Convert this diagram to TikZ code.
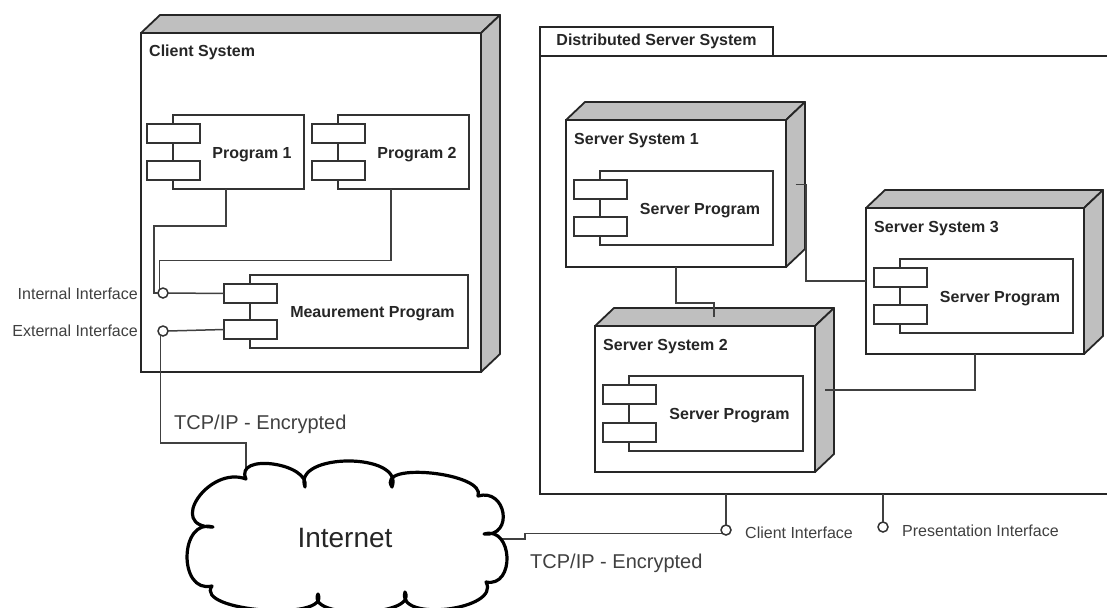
\documentclass[tikz,border=0pt]{standalone}
\usepackage{fontspec}
\setmainfont{Liberation Sans}
\usetikzlibrary{calc}

\tikzset{
  nodebox/.style={draw=black!85, line width=1.8pt, fill=white, inner sep=0pt, outer sep=0pt},
  face/.style={draw=black!85, line width=1.8pt, fill=black!25, line join=round},
  compbox/.style={draw=black!80, line width=1.6pt, fill=white, inner sep=0pt, outer sep=0pt},
  portbox/.style={compbox, minimum width=53, minimum height=19},
  boldlabel/.style={font=\fontsize{16}{18}\selectfont\bfseries, text=black!85, inner sep=0pt},
  plainlabel/.style={font=\fontsize{16}{18}\selectfont, text=black!75, inner sep=0pt},
  biglabel/.style={font=\fontsize{20}{24}\selectfont, text=black!75, inner sep=0pt},
  iface/.style={circle, draw=black!80, line width=1.5pt, fill=white, minimum size=10, inner sep=0pt, outer sep=0pt},
  wire/.style={draw=black!75, line width=1.5pt},
  cloudline/.style={draw=black, line width=3.2pt, fill=white, line join=round},
}

% 3D deployment node: name, left, top, right, bottom, title
\newcommand\deploynode[6]{%
  \node[nodebox, minimum width={#4-#2}, minimum height={#5-#3}, anchor=north west] (#1) at (#2,#3) {};
  \draw[face] (#1.north west) -- ++(19,-18) -- ([shift={(19,-18)}]#1.north east) -- (#1.north east) -- cycle;
  \draw[face] (#1.north east) -- ++(19,-18) -- ([shift={(19,-18)}]#1.south east) -- (#1.south east) -- cycle;
  \node[boldlabel, anchor=base west] (#1-t) at (#2+8,#3+24) {#6};
}

% UML component: name, left, top, right, bottom, title
\newcommand\compo[6]{%
  \node[compbox, minimum width={#4-#2}, minimum height={#5-#3}, anchor=north west] (#1) at (#2,#3) {};
  \node[portbox, anchor=north west] (#1-a) at (#2-26,#3+9) {};
  \node[portbox, anchor=south west] (#1-b) at (#2-26,#5-9) {};
  \node[boldlabel, anchor=base] (#1-t) at ({(#2+27+#4)/2},{(#3+#5)/2+6}) {#6};
}

\begin{document}
\begin{tikzpicture}[x=1pt,y=-1pt]
\clip (0,0) rectangle (1107,607);
\fill[white] (0,0) rectangle (1107,607);

% ---------- client side ----------
\deploynode{client}{141}{33}{481}{372}{Client System}
\compo{p1}{173}{115}{304}{189}{Program 1}
\compo{p2}{338}{115}{469}{189}{Program 2}
\compo{meas}{250}{275}{468}{348}{Meaurement Program}

\node[iface] (int) at (163,293) {};
\node[iface] (ext) at (163,331) {};
\node[plainlabel, anchor=base east] (intlbl) at (138,299) {Internal Interface};
\node[plainlabel, anchor=base east] (extlbl) at (138,336) {External Interface};

\draw[wire] ([xshift=53pt]p1.south west) |- (154,226) |- (int.west);
\draw[wire] ([xshift=53pt]p2.south west) |- ($(int.north west)+(0,-29)$) -- (int.north west);
\draw[wire] (int.east) -- (meas-a.west);
\draw[wire] (ext.east) -- (meas-b.west);

% ---------- server side ----------
\node[nodebox, line width=1.6pt, minimum width=233, minimum height=29,
      font=\fontsize{16}{18}\selectfont\bfseries, text=black!85] (dsstab) at (656.5,41.5) {Distributed Server System};
\node[nodebox, fill=none, line width=1.6pt, minimum width=600, minimum height=438, anchor=north west] (dss) at (540,56) {};

\deploynode{ss1}{566}{120}{786}{267}{Server System 1}
\compo{sp1}{600}{171}{773}{245}{Server Program}
\deploynode{ss3}{866}{208}{1084}{354}{Server System 3}
\compo{sp3}{900}{259}{1073}{333}{Server Program}
\deploynode{ss2}{595}{326}{815}{472}{Server System 2}
\compo{sp2}{629}{376}{803}{451}{Server Program}

\coordinate (ss1side) at ($(ss1.east)+(9.5,-9)$);
\coordinate (ss2side) at ($(ss2.east)+(9.5,-9)$);
\coordinate (ss2top) at ($(ss2.north)+(9,-9)$);
\draw[wire] (ss1side) -| ($(ss3.west)+(-60,0)$) -- (ss3.west);
\draw[wire] (ss1.south) |- ($(ss2top)+(0,-14)$) -- (ss2top);
\draw[wire] (ss3.south) |- (ss2side);

\node[iface] (cli) at (726,530) {};
\node[iface] (pres) at (883,527) {};
\draw[wire] (dss.south -| cli.north) -- (cli.north);
\draw[wire] (dss.south -| pres.north) -- (pres.north);
\node[plainlabel, anchor=base west] (clilbl) at (745,538) {Client Interface};
\node[plainlabel, anchor=base west] (preslbl) at (902,536) {Presentation Interface};

% ---------- internet ----------
\coordinate (cloudNW) at (246,479);
\coordinate (cloudE) at (500,539);
\draw[wire] (ext.240) |- ($(cloudNW)+(0,-36)$) -- (cloudNW);
\draw[wire] (cli.225) -| (525,539) -- (cloudE);

\draw[cloudline] (213,527)
  .. controls (166,527.5) and (209,465) .. (246,479)
  .. controls (233.8,452.5) and (310.6,462.9) .. (305,487)
  .. controls (292,452.3) and (405,452.3) .. (392,487)
  .. controls (375,461) and (487,473) .. (478,496)
  .. controls (506.4,487.6) and (514.2,537) .. (484,534)
  .. controls (513,525.5) and (515.6,587.9) .. (486,582)
  .. controls (501.5,609.8) and (396.1,622.8) .. (405,592)
  .. controls (418.7,617) and (305.7,619.6) .. (318,594)
  .. controls (331.2,621.9) and (193.4,611.5) .. (212,586)
  .. controls (177.9,594.2) and (179.2,517.5) .. cycle;
\node[font=\fontsize{28}{32}\selectfont, text=black!85, inner sep=0pt, anchor=base] (internet) at (345,547) {Internet};

\node[biglabel, anchor=base west] (tcp1) at (174,429) {TCP/IP - Encrypted};
\node[biglabel, anchor=base west] (tcp2) at (530,568) {TCP/IP - Encrypted};
\end{tikzpicture}
\end{document}
